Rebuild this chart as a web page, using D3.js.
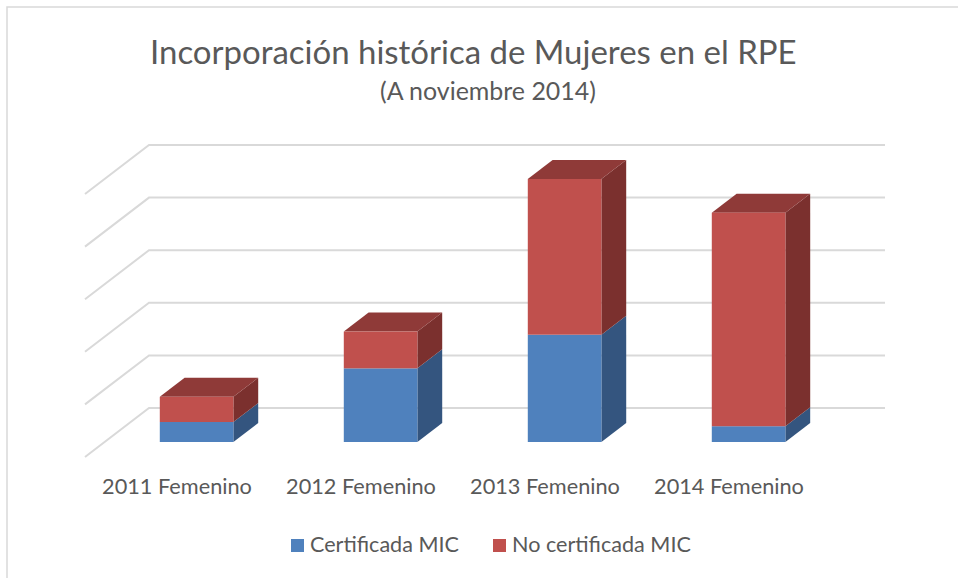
<!DOCTYPE html>
<html>
<head>
<meta charset="utf-8">
<script src="https://cdn.jsdelivr.net/npm/d3@7"></script>
<style>
  body { margin: 0; background: #fff; }
  svg { display: block; font-family: Lato, "Open Sans", sans-serif; }
</style>
</head>
<body>
<div id="chart"></div>
<script>
const categories = ["2011 Femenino", "2012 Femenino", "2013 Femenino", "2014 Femenino"];
const certificada = [19, 70, 102, 15];
const noCertificada = [24, 35, 148, 203];
const seriesNames = ["Certificada MIC", "No certificada MIC"];
const yTicks = [0, 50, 100, 150, 200, 250];

const width = 958, height = 578;
const textColor = "#595959", gridColor = "#d9d9d9";

// oblique depth: pixels down per depth unit, x shift per unit
const depthX = -64 / 49;
const wallDepth = 0, barBack = 15, barFront = 34, floorFront = 49;

const colors = [
  { front: "#4f81bd", side: "#34557f", top: "#3e6696" },
  { front: "#c0504d", side: "#7b302e", top: "#8f3a38" }
];

const svg = d3.select("#chart").append("svg")
  .attr("width", width)
  .attr("height", height);

// chart frame
svg.append("rect")
  .attr("x", 7).attr("y", 7)
  .attr("width", 960).attr("height", 580)
  .attr("fill", "none")
  .attr("stroke", "#d9d9d9")
  .attr("stroke-width", 1.5);

const x = d3.scaleBand()
  .domain(categories)
  .range([149, 885])
  .paddingInner(0.6)
  .paddingOuter(0.3);

const y = d3.scaleLinear()
  .domain([0, 250])
  .range([408, 145]);

const proj = (px, py, d) => [px + d * depthX, py + d];

// fit a text element to a width by changing font size
function fit(sel, target) {
  const node = sel.node();
  const w = node.getComputedTextLength();
  const fs = parseFloat(sel.attr("font-size"));
  sel.attr("font-size", fs * target / w);
  return sel;
}

// gridlines: side wall diagonal + back wall
const grid = svg.append("g");
yTicks.forEach(t => {
  const [fx, fy] = proj(x.range()[0], y(t), floorFront);
  grid.append("polyline")
    .attr("points", [[fx, fy], [x.range()[0], y(t)], [x.range()[1], y(t)]].join(" "))
    .attr("fill", "none")
    .attr("stroke", gridColor)
    .attr("stroke-width", 2);
});

// stacked bars
const data = categories.map((c, i) => ({ cat: c, vals: [certificada[i], noCertificada[i]] }));
const bars = svg.append("g");

data.forEach(({ cat, vals }) => {
  const x0 = x(cat), x1 = x(cat) + x.bandwidth();
  let acc = 0;
  vals.forEach((v, s) => {
    const v0 = acc, v1 = acc + v;
    acc = v1;
    const isTop = s === vals.length - 1;
    const fb = proj(x1, y(v0), barFront), ft = proj(x1, y(v1), barFront);
    const bb = proj(x1, y(v0), barBack), bt = proj(x1, y(v1), barBack);
    const g = bars.append("g");
    // right side
    g.append("polygon")
      .attr("points", [fb, ft, bt, bb].join(" "))
      .attr("fill", colors[s].side);
    if (isTop) {
      const fl = proj(x0, y(v1), barFront), bl = proj(x0, y(v1), barBack);
      g.append("polygon")
        .attr("points", [fl, ft, bt, bl].join(" "))
        .attr("fill", colors[s].top);
    }
    const [lx, ty] = proj(x0, y(v1), barFront);
    const [, by] = proj(x0, y(v0), barFront);
    g.append("rect")
      .attr("x", lx)
      .attr("y", ty)
      .attr("width", x.bandwidth())
      .attr("height", by - ty)
      .attr("fill", colors[s].front);
  });
});

// category labels at the floor front edge
categories.forEach(c => {
  const [cx, cy] = proj(x(c) + x.bandwidth() / 2, y(0), floorFront);
  const t = svg.append("text")
    .attr("x", cx)
    .attr("y", cy + 37)
    .attr("text-anchor", "middle")
    .attr("fill", textColor)
    .attr("font-size", 20)
    .text(c);
  fit(t, 150);
});

// titles
fit(svg.append("text")
  .attr("x", 150).attr("y", 64)
  .attr("fill", textColor)
  .attr("font-size", 32)
  .text("Incorporación histórica de Mujeres en el RPE"), 647);

fit(svg.append("text")
  .attr("x", 380).attr("y", 100)
  .attr("fill", textColor)
  .attr("font-size", 20)
  .text("(A noviembre 2014)"), 216);

// legend
const legendX = [291, 493], legendText = [149, 179];
seriesNames.forEach((name, i) => {
  svg.append("rect")
    .attr("x", legendX[i]).attr("y", 539)
    .attr("width", 13).attr("height", 13)
    .attr("fill", colors[i].front);
  fit(svg.append("text")
    .attr("x", legendX[i] + 19).attr("y", 552)
    .attr("fill", textColor)
    .attr("font-size", 20)
    .text(name), legendText[i]);
});
</script>
</body>
</html>
